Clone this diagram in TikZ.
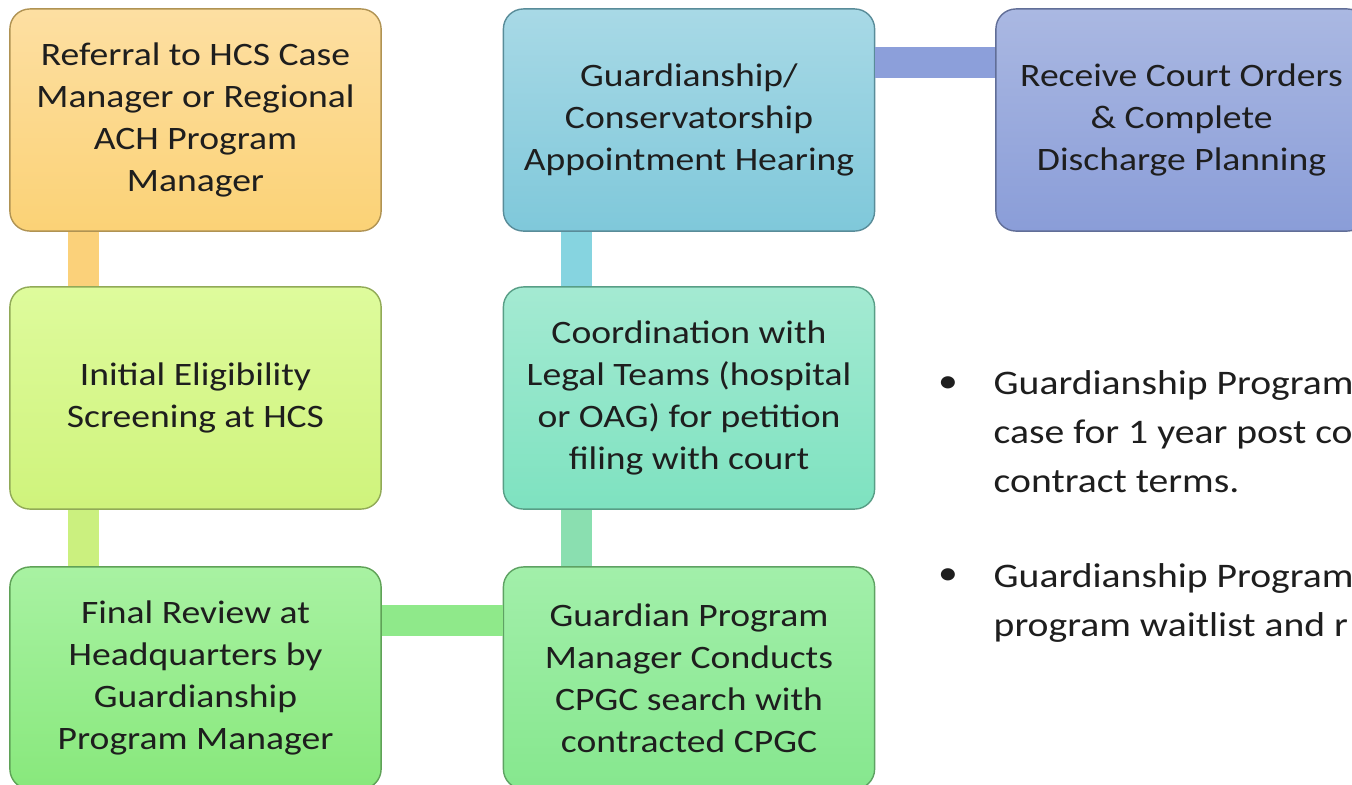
\documentclass[tikz,border=0pt]{standalone}
\usepackage{fontspec}
\setmainfont{Carlito}[FakeStretch=1.15]
\definecolor{txt}{HTML}{1E1E1E}
\definecolor{refTop}{HTML}{FDDFA2}
\definecolor{refBot}{HTML}{FBD276}
\definecolor{scrTop}{HTML}{DEFB9C}
\definecolor{scrBot}{HTML}{CFF37C}
\definecolor{finTop}{HTML}{A8F2A2}
\definecolor{finBot}{HTML}{88E87C}
\definecolor{cpgTop}{HTML}{A2EFAA}
\definecolor{cpgBot}{HTML}{86E78E}
\definecolor{legTop}{HTML}{A4EAD2}
\definecolor{legBot}{HTML}{7EE2C0}
\definecolor{hrgTop}{HTML}{A8D9E6}
\definecolor{hrgBot}{HTML}{7FC8DA}
\definecolor{ordTop}{HTML}{AAB8E2}
\definecolor{ordBot}{HTML}{8A9DD8}
\definecolor{barAB}{HTML}{FBD17A}
\definecolor{barBC}{HTML}{CBF07F}
\definecolor{barCF}{HTML}{8FE98A}
\definecolor{barFE}{HTML}{8ADFB0}
\definecolor{barED}{HTML}{86D4E0}
\definecolor{barDG}{HTML}{8C9FDA}
\begin{document}
\begin{tikzpicture}[x=0.01cm,y=-0.01cm,
    stage/.style 2 args={rounded corners=0.2cm, draw=#2!70!black, line width=0.4pt,
      top color=#1, bottom color=#2, minimum width=3.71cm, minimum height=2.22cm,
      align=center, text=txt, font=\fontsize{9.3}{11.9}\selectfont},
    bar/.style={line width=0.31cm, draw=#1},
    note/.style={align=left, text=txt, inner sep=0pt, font=\fontsize{9.8}{13.8}\selectfont}]
  \useasboundingbox (0,0) rectangle (1352,784);
  \fill[white] (0,0) rectangle (1352,784);
  \clip (0,0) rectangle (1352,784);

  % first column
  \node[stage={refTop}{refBot}] (referral) at (195.5,120) {Referral to HCS Case\\Manager or Regional\\ACH Program\\Manager};
  \node[stage={scrTop}{scrBot}] (screening) at (195.5,398) {Initial Eligibility\\Screening at HCS};
  \node[stage={finTop}{finBot}] (finalrev) at (195.5,678) {Final Review at\\Headquarters by\\Guardianship\\Program Manager};

  % second column
  \node[stage={hrgTop}{hrgBot}] (hearing) at (689,120) {Guardianship/\\Conservatorship\\Appointment Hearing};
  \node[stage={legTop}{legBot}] (legal) at (689,398) {Coordination with\\Legal Teams (hospital\\or OAG) for petition\\filing with court};
  \node[stage={cpgTop}{cpgBot}] (cpgc) at (689,678) {Guardian Program\\Manager Conducts\\CPGC search with\\contracted CPGC};

  % third column
  \node[stage={ordTop}{ordBot}] (orders) at (1181.5,120) {Receive Court Orders\\\& Complete\\Discharge Planning};

  % links
  \draw[bar=barAB] ([xshift=0.74cm]referral.south west) -- ([xshift=0.74cm]screening.north west);
  \draw[bar=barBC] ([xshift=0.74cm]screening.south west) -- ([xshift=0.74cm]finalrev.north west);
  \draw[bar=barCF] ([yshift=-0.54cm]finalrev.north east) -- ([yshift=-0.54cm]cpgc.north west);
  \draw[bar=barFE] ([xshift=0.74cm]cpgc.north west) -- ([xshift=0.74cm]legal.south west);
  \draw[bar=barED] ([xshift=0.74cm]legal.north west) -- ([xshift=0.74cm]hearing.south west);
  \draw[bar=barDG] ([yshift=-0.54cm]hearing.north east) -- ([yshift=-0.54cm]orders.north west);

  % notes (base = last line)
  \node[note] (dotA) at (948,385) {•};
  \node[note, anchor=base west] (noteA) at (993,492) {Guardianship Program\\case for 1 year post co\\contract terms.};
  \node[note] (dotB) at (948,577) {•};
  \node[note, anchor=base west] (noteB) at (993,636) {Guardianship Program\\program waitlist and r};
\end{tikzpicture}
\end{document}
